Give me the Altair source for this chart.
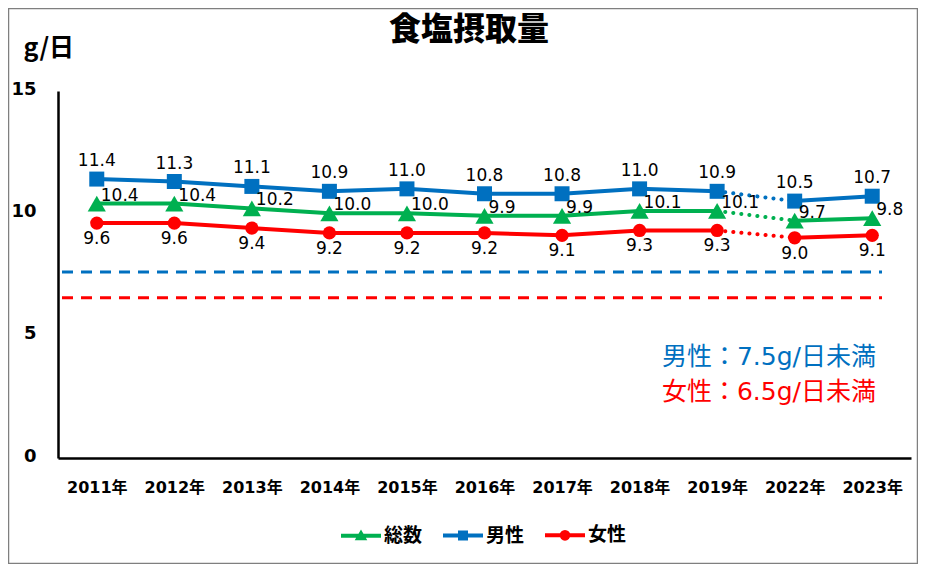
import altair as alt
import pandas as pd

# ---- data ----
title_text = ["食塩摂取量"]
years = ["2011年", "2012年", "2013年", "2014年", "2015年", "2016年",
         "2017年", "2018年", "2019年", "2022年", "2023年"]
series = ["総数", "男性", "女性"]
total = [10.4, 10.4, 10.2, 10.0, 10.0, 9.9, 9.9, 10.1, 10.1, 9.7, 9.8]
male = [11.4, 11.3, 11.1, 10.9, 11.0, 10.8, 10.8, 11.0, 10.9, 10.5, 10.7]
female = [9.6, 9.6, 9.4, 9.2, 9.2, 9.2, 9.1, 9.3, 9.3, 9.0, 9.1]
gap_years = ["2019年", "2022年"]          # survey gap drawn dotted
target_series = ["男性", "女性"]
target_values = [7.6, 6.55]               # dashed target lines as drawn
target_texts = ["男性：7.5g/日未満", "女性：6.5g/日未満"]

# ---- styles ----
colors = ["#00B050", "#0070C0", "#FF0000"]
shapes = ["triangle-up", "square", "circle"]
marker_sizes = [330, 225, 175]
FONT = "DejaVu Sans, Noto Sans CJK JP"
CJK = "Noto Sans CJK JP, DejaVu Sans"

# legend symbols: a line with the marker (outlines nested so the stroke fills them)
legend_paths = [
    "M-1,0H1M0,-0.12L0.14,0.12L-0.14,0.12Z",
    "M-1,0H1M-0.15,-0.15H0.15V0.15H-0.15ZM-0.05,-0.05H0.05V0.05H-0.05Z",
    "M-1,0H1M-0.17,0A0.17,0.17,0,1,0,0.17,0A0.17,0.17,0,1,0,-0.17,0Z"
    "M-0.06,0A0.06,0.06,0,1,0,0.06,0A0.06,0.06,0,1,0,-0.06,0Z",
]

rows = []
for s, vals in zip(series, [total, male, female]):
    for i, (yr, v) in enumerate(zip(years, vals)):
        rows.append({"year": yr, "series": s, "value": v,
                     "seg": "a" if i < 9 else "b", "label": f"{v:.1f}"})
df = pd.DataFrame(rows)
tdf = pd.DataFrame({"series": target_series, "value": target_values, "text": target_texts})

# mark colours use fill/stroke scales listed in another order so that their
# (hidden) legends are not merged with the visible colour/shape legend
mark_domain = series[::-1]
mark_range = colors[::-1]
line_stroke = alt.Stroke("series:N", scale=alt.Scale(domain=mark_domain, range=mark_range),
                         legend=None)
mark_fill = alt.Fill("series:N", scale=alt.Scale(domain=mark_domain, range=mark_range),
                     legend=None)

x_enc = alt.X("year:N", sort=years, title=None,
              axis=alt.Axis(labelAngle=0, labelFontSize=16, labelFontWeight="bold",
                            labelFont=FONT, labelColor="black", labelPadding=21,
                            ticks=False, domainColor="black", domainWidth=2.5, grid=False))
y_scale = alt.Scale(domain=[0, 15], nice=False, zero=True)
y_enc = alt.Y("value:Q", scale=y_scale,
              axis=alt.Axis(values=[0, 5, 10, 15], grid=False, ticks=False,
                            labelFontSize=18, labelFontWeight="bold", labelFont=FONT,
                            labelColor="black", labelPadding=22, labelOffset=-2,
                            domainColor="black", domainWidth=2.5,
                            title="g/日", titleAngle=0, titleX=-35, titleY=-44,
                            titleAlign="left", titleBaseline="middle", titleFontSize=25,
                            titleFontWeight="bold", titleFont=CJK, titleColor="black"))

legend = alt.Legend(title=None, orient="none", legendX=281, legendY=422,
                    direction="horizontal", symbolSize=1600, symbolStrokeWidth=4,
                    symbolOpacity=1, labelFontSize=19, labelFontWeight="bold",
                    labelFont=CJK, labelColor="black", labelOffset=1,
                    columnPadding=12, padding=0)

base = alt.Chart(df)

targets = alt.Chart(tdf).mark_rule(strokeWidth=3, strokeDash=[11, 8]).encode(
    y=alt.Y("value:Q", scale=y_scale), x=alt.value(4), x2=alt.value(824),
    stroke=line_stroke)

solid = base.mark_line(strokeWidth=4).encode(
    x=x_enc, y=y_enc, stroke=line_stroke, detail="seg:N")

dotted = base.transform_filter(
    alt.FieldOneOfPredicate(field="year", oneOf=gap_years)
).mark_line(strokeWidth=4, strokeDash=[0.1, 8], strokeCap="round").encode(
    x=x_enc, y=y_enc, stroke=line_stroke, detail="series:N")

point_layers = []
for s, shp, sz in zip(series, shapes, marker_sizes):
    point_layers.append(
        base.transform_filter(alt.datum.series == s).mark_point(
            filled=True, opacity=1, strokeWidth=0, shape=shp, size=sz
        ).encode(x=x_enc, y=y_enc, fill=mark_fill))

# legend-only layer (its own marks sit outside the view)
legend_layer = base.transform_filter(alt.datum.year == years[0]).mark_point(
    filled=False, strokeWidth=4, size=1600
).encode(
    x=alt.value(-2000), y=alt.value(-2000),
    color=alt.Color("series:N", scale=alt.Scale(domain=series, range=colors), legend=legend),
    shape=alt.Shape("series:N", scale=alt.Scale(domain=series, range=legend_paths),
                    legend=legend))

lab_total = base.transform_filter(alt.datum.series == "総数").mark_text(
    align="left", baseline="middle", dx=4, dy=-8, fontSize=17, font=FONT, color="black"
).encode(x=x_enc, y=y_enc, text="label:N")
lab_male = base.transform_filter(alt.datum.series == "男性").mark_text(
    align="center", baseline="middle", dy=-18, fontSize=17, font=FONT, color="black"
).encode(x=x_enc, y=y_enc, text="label:N")
lab_female = base.transform_filter(alt.datum.series == "女性").mark_text(
    align="center", baseline="middle", dy=16, fontSize=17, font=FONT, color="black"
).encode(x=x_enc, y=y_enc, text="label:N")

note_m = alt.Chart(tdf).transform_filter(alt.datum.series == "男性").mark_text(
    align="right", baseline="middle", fontSize=25, font=FONT
).encode(x=alt.value(818), y=alt.value(266), text="text:N", fill=mark_fill)
note_f = alt.Chart(tdf).transform_filter(alt.datum.series == "女性").mark_text(
    align="right", baseline="middle", fontSize=25, font=FONT
).encode(x=alt.value(818), y=alt.value(301), text="text:N", fill=mark_fill)

title = alt.Chart(pd.DataFrame({"t": title_text})).mark_text(
    align="center", baseline="middle", fontSize=32, fontWeight=900, font=CJK,
    color="black"
).encode(x=alt.value(411), y=alt.value(-61), text="t:N")

border = alt.Chart(pd.DataFrame({"b": [0]})).mark_rect(
    fillOpacity=0, stroke="#7f7f7f", strokeWidth=1.5
).encode(x=alt.value(-49.5), x2=alt.value(859.5), y=alt.value(-82.5), y2=alt.value(472.5))

chart = alt.layer(
    border, title, targets, solid, dotted, *point_layers, legend_layer,
    lab_total, lab_male, lab_female, note_m, note_f
).properties(
    width=853, height=367,
    autosize=alt.AutoSizeParams(type="none"),
    padding={"left": 50, "top": 83, "right": 7, "bottom": 106},
).configure_view(stroke=None)

chart.save("out.html", embed_options={"renderer": "svg", "actions": False})
